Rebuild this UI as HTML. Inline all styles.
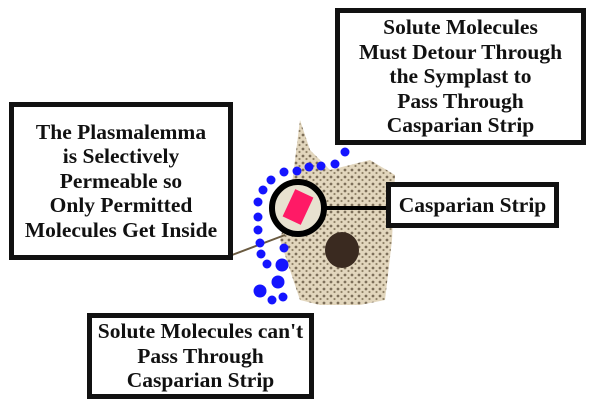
<!DOCTYPE html>
<html><head><style>
body{margin:0;width:600px;height:420px;background:#fff;position:relative;overflow:hidden;font-family:"Liberation Serif",serif;}
.b{position:absolute;box-sizing:border-box;border:5px solid #111;background:#fff;font-weight:bold;font-size:21.5px;line-height:24.5px;text-align:center;color:#111;display:flex;align-items:center;justify-content:center;white-space:nowrap;}
</style></head><body>
<svg width="600" height="420" style="position:absolute;left:0;top:0">
<defs><pattern id="sp" width="7" height="7" patternUnits="userSpaceOnUse">
<circle cx="2" cy="2" r="1.4" fill="#3a2a18"/><circle cx="5.5" cy="5" r="1.1" fill="#5a4a30"/></pattern></defs>
<path d="M300 120 L310 150 L330 170 L370 160 L395 175 L392 240 L385 300 L360 305 L320 305 L300 300 L290 270 L280 240 L290 200 Z" fill="#e2d6bd"/>
<path d="M300 120 L310 150 L330 170 L370 160 L395 175 L392 240 L385 300 L360 305 L320 305 L300 300 L290 270 L280 240 L290 200 Z" fill="url(#sp)" opacity=".6"/>
<ellipse cx="342" cy="250" rx="17" ry="18" fill="#3a2a20"/>
<line x1="232" y1="255" x2="285" y2="235" stroke="#6a5a40" stroke-width="2"/>
<g fill="#1414ff">
<circle cx="345" cy="152" r="4.5"/><circle cx="335" cy="164" r="4.5"/><circle cx="321" cy="166" r="4.5"/><circle cx="309" cy="167" r="4.5"/><circle cx="297" cy="171" r="4.5"/><circle cx="284" cy="172" r="4.5"/><circle cx="271" cy="180" r="4.5"/><circle cx="263" cy="190" r="4.5"/><circle cx="258" cy="202" r="4.5"/><circle cx="258" cy="217" r="4.5"/><circle cx="258" cy="230" r="4.5"/><circle cx="260" cy="243" r="4.5"/><circle cx="261" cy="254" r="4.5"/><circle cx="267" cy="264" r="4.5"/><circle cx="284" cy="248" r="4.5"/><circle cx="282" cy="265" r="6.5"/><circle cx="278" cy="282" r="6.5"/><circle cx="260" cy="291" r="6.5"/><circle cx="272" cy="300" r="4.5"/><circle cx="283" cy="297" r="4.5"/>
</g>
<circle cx="298" cy="208" r="26" fill="#e8e2d0" stroke="#000" stroke-width="6"/>
<rect x="288" y="192" width="20" height="30" fill="#ff1a66" transform="rotate(25 298 207)"/>
<line x1="324" y1="208" x2="388" y2="208" stroke="#000" stroke-width="4"/>
</svg>
<div class="b" style="left:335px;top:8px;width:251px;height:137px;">Solute Molecules<br>Must Detour Through<br>the Symplast to<br>Pass Through<br>Casparian Strip</div>
<div class="b" style="left:9px;top:102px;width:224px;height:158px;">The Plasmalemma<br>is Selectively<br>Permeable so<br>Only Permitted<br>Molecules Get Inside</div>
<div class="b" style="left:386px;top:182px;width:173px;height:46px;">Casparian Strip</div>
<div class="b" style="left:87px;top:313px;width:227px;height:86px;">Solute Molecules can't<br>Pass Through<br>Casparian Strip</div>
</body></html>
